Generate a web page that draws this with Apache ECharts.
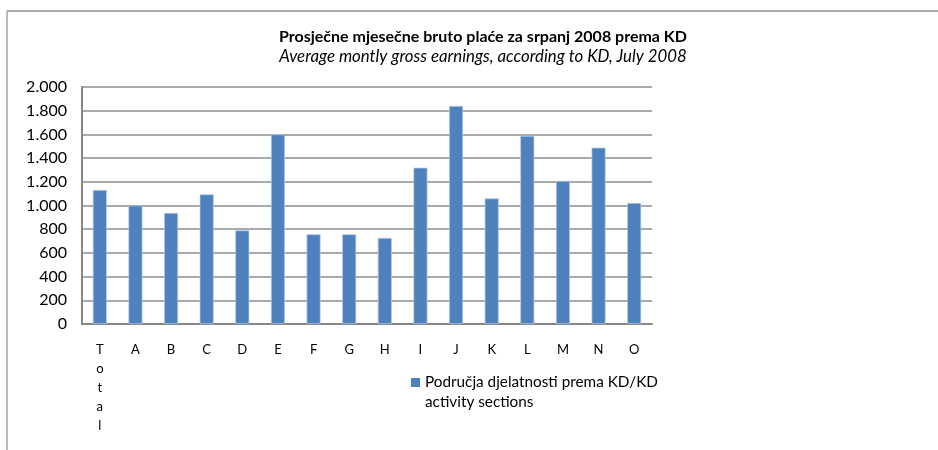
<!DOCTYPE html>
<html>
<head>
<meta charset="utf-8">
<script src="https://cdn.jsdelivr.net/npm/echarts@6/dist/echarts.min.js"></script>
<style>html,body{margin:0;padding:0;background:#fff}#c{width:938px;height:450px}</style>
</head>
<body>
<div id="c"></div>
<script>
const titleText = "Prosječne mjesečne bruto plaće za srpanj 2008 prema KD";
const subtitleText = "Average montly gross earnings, according to KD, July 2008";
const seriesName = "Područja djelatnosti prema KD/KD\nactivity sections";
const categories = ["Total","A","B","C","D","E","F","G","H","I","J","K","L","M","N","O"];
const values = [1131,1000,937,1094,790,1600,757,757,726,1319,1840,1060,1588,1207,1488,1021];
const yTicks = [0,200,400,600,800,1000,1200,1400,1600,1800,2000];

const FONT = "Lato";
const nameLines = seriesName.split('\n');
const chart = echarts.init(document.getElementById('c'), null, {renderer:'canvas'});
chart.setOption({
  animation:false,
  backgroundColor:'#fff',
  title:[
    {text:titleText,left:478,textAlign:'center',top:24,textStyle:{fontFamily:FONT,fontSize:16,fontWeight:'bold',color:'#000'}},
    {text:subtitleText,left:478,textAlign:'center',top:43,textStyle:{fontFamily:FONT,fontSize:16.8,fontStyle:'italic',fontWeight:'normal',color:'#000'}}
  ],
  graphic:[
    {type:'line',shape:{x1:7,y1:11,x2:938,y2:11},style:{stroke:'#8c8c8c',lineWidth:1.5}},
    {type:'line',shape:{x1:7,y1:11,x2:7,y2:450},style:{stroke:'#a6a6a6',lineWidth:1.5}},
    {type:'text',x:425,y:402,style:{text:nameLines[1],font:'15.3px Lato',fill:'#000',align:'left',verticalAlign:'middle'}}
  ],
  grid:{left:82,right:286,top:87,bottom:126,containLabel:false},
  legend:{
    left:406,top:370,
    icon:'rect',itemWidth:9,itemHeight:9,itemGap:5,
    itemStyle:{borderWidth:0,color:'#4f81bd'},
    formatter:n=>n.split('\n')[0],
    textStyle:{fontFamily:FONT,fontSize:15.3,color:'#000'},
    data:[seriesName]
  },
  xAxis:{
    type:'category',data:categories,
    axisLine:{lineStyle:{color:'#868686',width:2}},
    axisTick:{show:false},
    axisLabel:{fontFamily:FONT,fontSize:13,color:'#000',margin:16,lineHeight:19,interval:0,
      formatter:v=>v.length>1?v.split('').join('\n'):v}
  },
  yAxis:{
    type:'value',min:yTicks[0],max:yTicks[yTicks.length-1],interval:200,
    axisLine:{show:true,lineStyle:{color:'#868686',width:2}},
    axisTick:{show:false},
    splitLine:{lineStyle:{color:'#8c8c8c',width:1.5}},
    axisLabel:{fontFamily:FONT,fontSize:16,color:'#000',margin:15,
      formatter:v=>v>=1000?Math.floor(v/1000)+'.'+String(v%1000).padStart(3,'0'):String(v)}
  },
  series:[{
    name:seriesName,type:'bar',data:values,barWidth:14,
    itemStyle:{color:'#4f81bd',borderColor:'#b9cde5',borderWidth:0.7}
  }]
});
</script>
</body>
</html>
